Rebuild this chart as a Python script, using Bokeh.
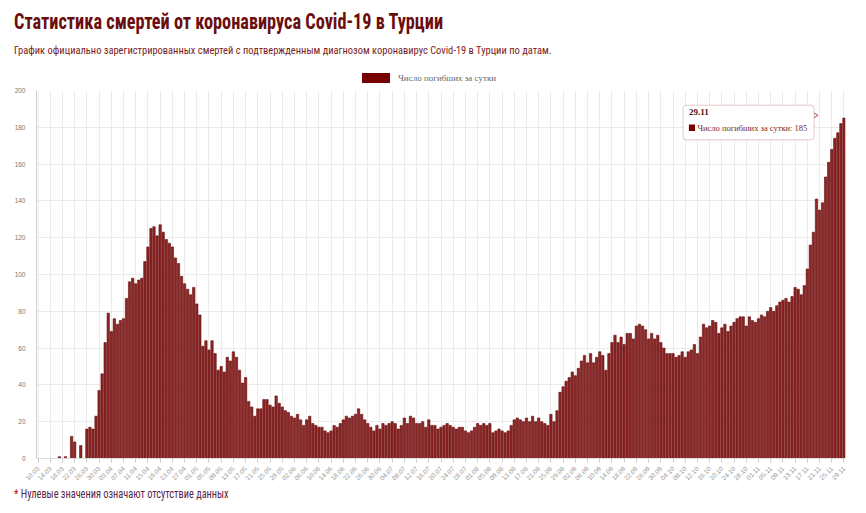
import math
import pandas as pd
from bokeh.plotting import figure
from bokeh.layouts import column
from bokeh.models import (Label, BoxAnnotation, FixedTicker, ColumnDataSource,
                          Range1d, Div)
from bokeh.embed import file_html
from bokeh.resources import INLINE

# ---------------- data ----------------
start_date = "2020-03-10"
deaths = [
    0, 0, 0, 0, 0, 0, 0, 1, 0, 1,            # 10.03-19.03
    0, 12, 9, 0, 7, 0, 16, 17, 16, 23,       # 20.03-29.03
    37, 46, 63, 79, 69, 76, 73, 75, 76, 87,  # 30.03-08.04
    96, 98, 95, 97, 98, 107, 115, 125, 126, 121,   # 09.04-18.04
    127, 123, 119, 117, 115, 109, 106, 99, 95, 92, # 19.04-28.04
    89, 93, 84, 78, 61, 64, 59, 64, 57, 48,  # 29.04-08.05
    50, 47, 55, 53, 58, 55, 48, 41, 44, 31,  # 09.05-18.05
    28, 23, 27, 27, 32, 32, 29, 28, 34, 30,  # 19.05-28.05
    28, 26, 25, 23, 22, 24, 21, 18, 21, 23,  # 29.05-07.06
    19, 18, 17, 17, 15, 14, 15, 18, 17, 19,  # 08.06-17.06
    21, 23, 22, 23, 24, 27, 24, 21, 19, 17,  # 18.06-27.06
    15, 18, 16, 19, 18, 19, 20, 19, 16, 18,  # 28.06-07.07
    22, 19, 23, 22, 19, 19, 20, 17, 21, 18,  # 08.07-17.07
    18, 16, 17, 18, 19, 18, 17, 16, 17, 17,  # 18.07-27.07
    15, 14, 15, 17, 19, 18, 19, 18, 19, 14,  # 28.07-06.08
    15, 16, 15, 14, 15, 18, 21, 22, 21, 20,  # 07.08-16.08
    22, 20, 23, 20, 22, 20, 19, 18, 24, 20,  # 17.08-26.08
    26, 36, 39, 42, 44, 47, 45, 49, 53, 56,  # 27.08-05.09
    52, 57, 52, 55, 58, 56, 48, 57, 63, 67,  # 06.09-15.09
    63, 66, 62, 68, 68, 65, 72, 73, 72, 70,  # 16.09-25.09
    65, 68, 65, 67, 63, 60, 57, 57, 57, 55,  # 26.09-05.10
    56, 58, 55, 58, 59, 62, 57, 66, 73, 71,  # 06.10-15.10
    72, 75, 74, 68, 71, 73, 69, 72, 74, 76,  # 16.10-25.10
    77, 77, 72, 77, 75, 74, 76, 78, 77, 80,  # 26.10-04.11
    82, 80, 83, 85, 86, 87, 85, 88, 93, 92,  # 05.11-14.11
    89, 94, 103, 116, 123, 141, 135, 139, 153, 161,  # 15.11-24.11
    168, 174, 177, 182, 185,                 # 25.11-29.11
]
y_ticks = [0, 20, 40, 60, 80, 100, 120, 140, 160, 180, 200]
series_name = "Число погибших за сутки"
title_text = "Статистика смертей от коронавируса Covid-19 в Турции"
subtitle_text = ("График официально зарегистрированных смертей с подтвержденным "
                 "диагнозом коронавирус Covid-19 в Турции по датам.")
footnote_text = "Нулевые значения означают отсутствие данных"

dates = [d.strftime("%d.%m") for d in pd.date_range(start_date, periods=len(deaths), freq="D")]
idx = list(range(len(deaths)))
x_tick_idx = idx[::4]

W = 866
HEADER_H = 87
narrow = "'Liberation Sans Narrow', 'Arial Narrow', 'Roboto Condensed', 'Roboto', sans-serif"
serif = "'Liberation Serif', 'DejaVu Serif', serif"

# ---------------- header (title, subtitle, legend) ----------------
header_html = f"""
<div style="position:relative;width:{W}px;height:{HEADER_H}px;">
  <div style="position:absolute;left:14px;top:6px;white-space:nowrap;
              transform:scaleX(0.83);transform-origin:left center;
              font-family:{narrow};font-weight:bold;font-size:22px;color:#6b0d0d;">{title_text}</div>
  <div style="position:absolute;left:14px;top:43px;white-space:nowrap;
              transform:scaleX(0.95);transform-origin:left center;
              font-family:{narrow};font-size:11px;color:#7a1c1c;">{subtitle_text}</div>
  <div style="position:absolute;left:362px;top:73px;width:28px;height:10px;background:#780000;"></div>
  <div style="position:absolute;left:398px;top:72px;white-space:nowrap;
              font-family:{serif};font-size:9px;color:#666666;">{series_name}</div>
</div>"""
header = Div(text=header_html, width=W, height=HEADER_H, margin=(0, 0, 0, 0))

# ---------------- figure ----------------
FL, FT, FB = 36, 90, 463           # frame edges in page pixels
FIG_H = 398
p = figure(width=W, height=FIG_H, output_backend="svg", toolbar_location=None,
           x_range=Range1d(-0.5, len(deaths) - 0.5), y_range=Range1d(0, 200),
           min_border_left=FL, min_border_right=21, min_border_top=FT - HEADER_H,
           min_border_bottom=HEADER_H + FIG_H - FB, margin=(0, 0, 0, 0))
p.outline_line_color = None
p.background_fill_color = "white"
p.border_fill_color = "white"

src = ColumnDataSource(dict(x=idx, y=deaths, d=dates))
p.vbar(x="x", top="y", width=0.78, source=src, fill_color="#8a2626",
       line_color="#6a0a0a", line_width=0.6)

# axes
p.xaxis.ticker = FixedTicker(ticks=x_tick_idx)
p.xaxis.major_label_overrides = {i: dates[i] for i in x_tick_idx}
p.xaxis.major_label_orientation = 0.785
p.xaxis.major_label_text_font_size = "6.5px"
p.xaxis.major_label_text_color = "#999999"
p.xaxis.axis_line_color = "#dddddd"
p.xaxis.major_tick_line_color = "#cccccc"
p.xaxis.major_tick_out = 4
p.xaxis.major_tick_in = 0
p.xaxis.minor_tick_line_color = None

p.yaxis.ticker = FixedTicker(ticks=y_ticks)
p.yaxis.major_label_text_font_size = "6.5px"
p.yaxis.major_label_text_color = "#777777"
p.yaxis.axis_line_color = "#cccccc"
p.yaxis.major_tick_line_color = None
p.yaxis.minor_tick_line_color = None
p.yaxis.major_label_standoff = 5

p.xgrid.ticker = FixedTicker(ticks=x_tick_idx)
p.xgrid.grid_line_color = "#ebebeb"
p.ygrid.grid_line_color = "#ebebeb"

# tooltip for last day
last_i = idx[-1]
last_v = deaths[-1]
p.scatter(x=[last_i - 9.6], y=[last_v + 1.5], marker="triangle",
          angle=-math.pi / 2, size=6, fill_color="white",
          line_color="#b04a4a", line_width=1)
p.add_layout(BoxAnnotation(left=last_i - 52.7, right=last_i - 9.8,
                           top=last_v + 7, bottom=last_v - 11.8,
                           fill_color="white", fill_alpha=1,
                           line_color="#b04a4a", line_width=1, border_radius=3))
p.add_layout(Label(x=last_i - 50.8, y=last_v + 1.5, text=dates[-1],
                   text_font="Liberation Serif", text_font_style="bold",
                   text_font_size="9px", text_color="#5a1010"))
p.add_layout(BoxAnnotation(left=last_i - 50.8, right=last_i - 48.8,
                           top=last_v - 3.5, bottom=last_v - 7,
                           fill_color="#780000", fill_alpha=1, line_color=None))
p.add_layout(Label(x=last_i - 48.0, y=last_v - 8.2,
                   text=f"{series_name}: {last_v}",
                   text_font="Liberation Serif",
                   text_font_size="8.5px", text_color="#7a2a2a"))

# ---------------- footnote ----------------
foot_html = f"""
<div style="position:relative;width:{W}px;height:26px;">
  <div style="position:absolute;left:14px;top:1px;white-space:nowrap;
              transform:scaleX(0.86);transform-origin:left center;
              font-family:{narrow};font-size:12px;color:#5a2446;">
    <span style="color:#c01010;">*</span> {footnote_text}</div>
</div>"""
footer = Div(text=foot_html, width=W, height=26, margin=(0, 0, 0, 0))

layout = column(header, p, footer, spacing=0, margin=(0, 0, 0, 0))
open("out.html", "w").write(file_html(layout, INLINE))
